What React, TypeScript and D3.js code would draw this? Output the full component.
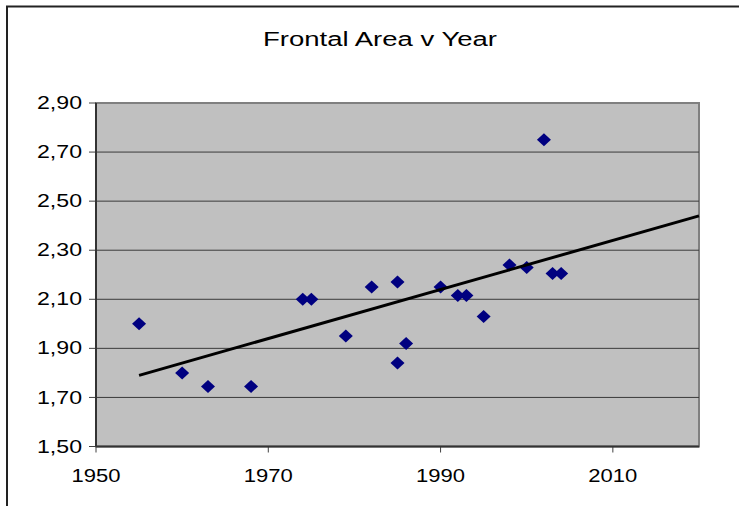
import React from "react";
import * as d3 from "d3";

const years = [1955, 1960, 1963, 1968, 1974, 1975, 1979, 1982, 1985, 1985, 1986, 1990, 1992, 1993, 1995, 1998, 2000, 2002, 2003, 2004];
const areas = [2.0, 1.8, 1.745, 1.745, 2.1, 2.1, 1.95, 2.15, 2.17, 1.84, 1.92, 2.15, 2.115, 2.115, 2.03, 2.24, 2.23, 2.75, 2.205, 2.205];
const trendYears = [1955, 2020];
const trendValues = [1.79, 2.44];
const xTicks = [1950, 1970, 1990, 2010];
const yTicks = [1.5, 1.7, 1.9, 2.1, 2.3, 2.5, 2.7, 2.9];
const title = "Frontal Area v Year";

const W = 739;
const H = 506;
const plot = { left: 96, right: 699, top: 103, bottom: 446.5 };

export default function App() {
  const x = d3.scaleLinear().domain([1950, 2020]).range([plot.left, plot.right]);
  const y = d3.scaleLinear().domain([1.5, 2.9]).range([plot.bottom, plot.top]);
  const fmt = (v: number) => d3.format(".2f")(v).replace(".", ",");
  const line = d3
    .line<number>()
    .x((_, i) => x(trendYears[i]))
    .y((d) => y(d));
  const font = "Liberation Sans, Arial, sans-serif";
  const diamond = (cx: number, cy: number) =>
    `M${cx},${cy - 6.5}L${cx + 7},${cy}L${cx},${cy + 6.5}L${cx - 7},${cy}Z`;

  return (
    <svg
      width={W}
      height={H}
      style={{ position: "absolute", left: 0, top: 0, background: "#fff" }}
    >
      <rect x={7} y={6.5} width={W + 10} height={H + 10} fill="#fff" stroke="#222" strokeWidth={2} />
      <text
        x={380}
        y={46}
        fontFamily={font}
        fontSize={20}
        textAnchor="middle"
        textLength={234}
        lengthAdjust="spacingAndGlyphs"
        fill="#000"
      >
        {title}
      </text>
      <rect
        x={plot.left}
        y={plot.top}
        width={plot.right - plot.left}
        height={plot.bottom - plot.top}
        fill="#c0c0c0"
        stroke="#808080"
        strokeWidth={2}
      />
      {yTicks.map((t) => (
        <g key={"y" + t}>
          {t > 1.5 && t < 2.9 && (
            <line x1={plot.left} x2={plot.right} y1={y(t)} y2={y(t)} stroke="#3a3a3a" strokeWidth={1} />
          )}
          <line x1={plot.left - 7} x2={plot.left} y1={y(t)} y2={y(t)} stroke="#404040" strokeWidth={1} />
          <text
            x={82}
            y={y(t)}
            dy="0.35em"
            textAnchor="end"
            fontFamily={font}
            fontSize={17.5}
            textLength={45}
            lengthAdjust="spacingAndGlyphs"
            fill="#000"
          >
            {fmt(t)}
          </text>
        </g>
      ))}
      {xTicks.map((t) => (
        <g key={"x" + t}>
          <line x1={x(t)} x2={x(t)} y1={plot.bottom} y2={plot.bottom + 6} stroke="#404040" strokeWidth={1} />
          <text
            x={x(t)}
            y={481.5}
            textAnchor="middle"
            fontFamily={font}
            fontSize={18}
            textLength={49}
            lengthAdjust="spacingAndGlyphs"
            fill="#000"
          >
            {t}
          </text>
        </g>
      ))}
      <line x1={plot.left} x2={plot.left} y1={plot.top} y2={plot.bottom} stroke="#333" strokeWidth={2} />
      <line x1={plot.left} x2={plot.right} y1={plot.bottom} y2={plot.bottom} stroke="#333" strokeWidth={2} />
      {years.map((yr, i) => (
        <path key={"p" + i} d={diamond(x(yr), y(areas[i]))} fill="#000080" />
      ))}
      <path d={line(trendValues) || ""} fill="none" stroke="#000" strokeWidth={3} />
    </svg>
  );
}
